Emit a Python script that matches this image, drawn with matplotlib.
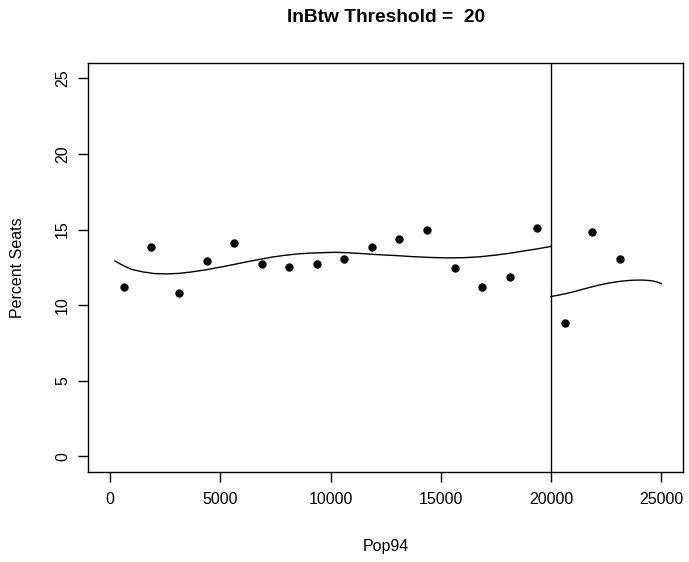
import matplotlib
matplotlib.use("Agg")
import matplotlib.pyplot as plt

plt.rcParams['font.family'] = ['Liberation Sans', 'DejaVu Sans']

# binned data points
pop_bins = [625, 1875, 3125, 4375, 5625, 6875, 8125, 9375, 10625, 11875,
            13125, 14375, 15625, 16875, 18125, 19375, 20625, 21875, 23125]
pct_seats = [11.2, 13.82, 10.82, 12.91, 14.09, 12.71, 12.55, 12.73, 13.03, 13.84,
             14.41, 14.97, 12.46, 11.19, 11.85, 15.1, 8.83, 14.84, 13.05]

# fitted curve, left of threshold
fit_left_x = [218, 600, 970, 1500, 2027, 2550, 3084, 3700, 4295, 4900, 5505, 6100,
              6712, 7300, 7923, 8500, 9134, 10190, 10800, 11474, 12200, 12989,
              13750, 14499, 15250, 16009, 16750, 17524, 18150, 18730, 19350,
              19941, 20000]
fit_left_y = [12.92, 12.62, 12.37, 12.2, 12.09, 12.07, 12.1, 12.2, 12.33, 12.49, 12.66,
              12.84, 13.01, 13.17, 13.3, 13.39, 13.45, 13.5, 13.47, 13.41, 13.34, 13.28,
              13.21, 13.16, 13.13, 13.14, 13.2, 13.32, 13.44, 13.58, 13.72,
              13.87, 13.9]
# fitted curve, right of threshold
fit_right_x = [20000, 20350, 20698, 21000, 21302, 21680, 22058, 22435, 22812, 23190,
               23569, 23870, 24172, 24400, 24626, 24820, 25000]
fit_right_y = [10.57, 10.67, 10.77, 10.88, 11.0, 11.15, 11.29, 11.41, 11.51, 11.59,
               11.64, 11.66, 11.66, 11.64, 11.6, 11.53, 11.43]

threshold = 20000
xticks = [0, 5000, 10000, 15000, 20000, 25000]
yticks = [0, 5, 10, 15, 20, 25]

W, H = 689, 562
L, R, T, B = 88, 683.3, 63.3, 471.5

fig = plt.figure(figsize=(W/100, H/100), dpi=100)
ax = fig.add_axes([L/W, 1-B/H, (R-L)/W, (B-T)/H])

ax.plot(pop_bins, pct_seats, 'o', color='black', markersize=5, zorder=3)
ax.plot(fit_left_x, fit_left_y, color='black', linewidth=1.0)
ax.plot(fit_right_x, fit_right_y, color='black', linewidth=1.0)
ax.axvline(threshold, color='black', linewidth=1.0)

ax.set_xlim(-1000, 26000)
ax.set_ylim(-1, 26)
ax.set_xticks(xticks)
ax.set_xticklabels([str(t) for t in xticks])
ax.set_yticks(yticks)
ax.set_yticklabels([str(t) for t in yticks], rotation=90, va='center')

ax.tick_params(axis='both', direction='out', length=7, width=1.0,
               labelsize=11.5, colors='black')
ax.tick_params(axis='x', pad=7.4)
ax.tick_params(axis='y', pad=5.9)
for s in ax.spines.values():
    s.set_linewidth(1.0)
    s.set_color('black')

fig.text((L+R)/2/W, 1-547/H, 'Pop94', ha='center', va='center', fontsize=11.5)
fig.text(18/W, 1-((T+B)/2)/H, 'Percent Seats', ha='center', va='center',
         rotation=90, fontsize=11.5)
fig.text((L+R)/2/W, 1-17/H, 'InBtw Threshold =  20', ha='center',
         va='center', fontsize=13.8, fontweight='bold')

fig.savefig('out.png', dpi=100)
